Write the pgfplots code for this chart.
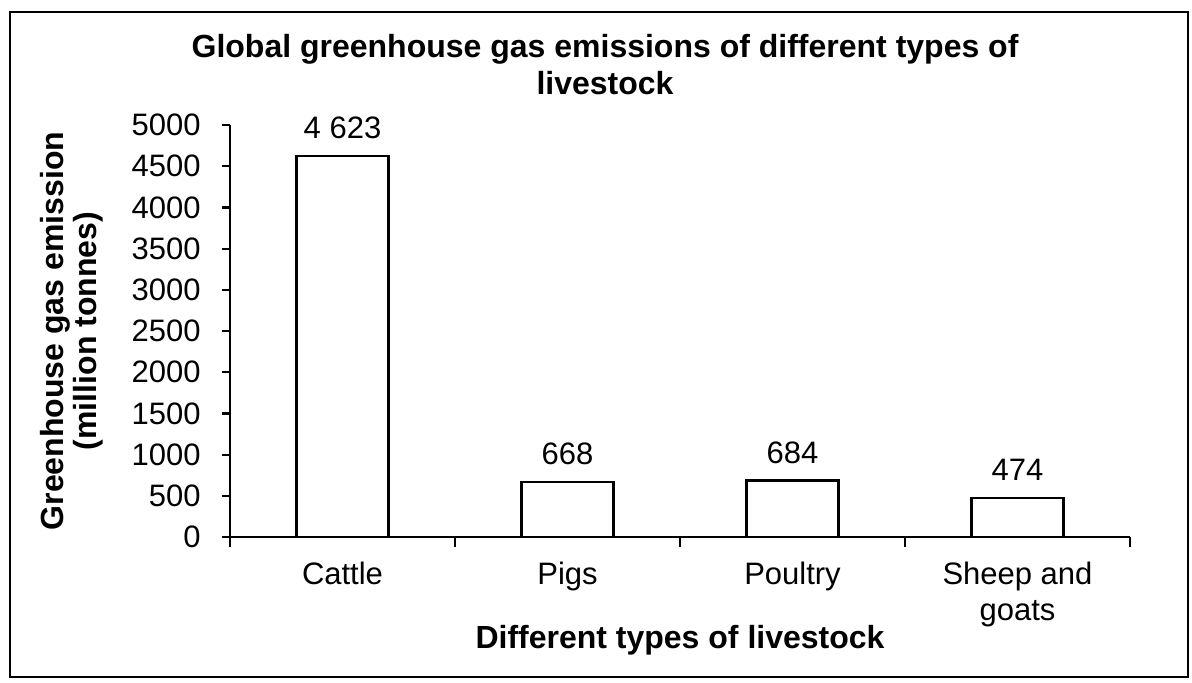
\documentclass[12pt,border=0pt]{standalone}
\usepackage{pgfplots}
\pgfplotsset{compat=1.18}
\usepackage{fontspec}
\setmainfont{Liberation Sans}
\begin{document}
\begin{tikzpicture}
\useasboundingbox (-115pt,-72.5pt) rectangle (481pt,268.5pt);
\draw[line width=1.3pt] (-110pt,-70pt) rectangle (479pt,262.5pt);
\begin{axis}[
  at={(0pt,0pt)}, anchor=south west,
  width=450pt, height=206pt, scale only axis,
  xmin=-0.5, xmax=3.5, ymin=0, ymax=5000,
  axis lines*=left,
  axis line style={line width=1.1pt},
  xtick={0,1,2,3},
  xticklabels={Cattle,Pigs,Poultry,{Sheep and\\goats}},
  minor xtick={-0.5,0.5,1.5,2.5,3.5},
  major x tick style={draw=none},
  minor x tick style={line width=1.1pt, black},
  ytick={0,500,...,5000},
  y tick style={line width=1.1pt, black},
  tick align=outside,
  major tick length=4pt,
  minor tick length=5pt,
  /pgf/number format/1000 sep={},
  /pgf/number format/assume math mode=true,
  xticklabel style={align=center, anchor=north, yshift=-4.5pt, font=\fontsize{15.5}{18}\selectfont},
  yticklabel style={font=\fontsize{15.5}{18}\selectfont, xshift=-6.5pt},
  title={Global greenhouse gas emissions of different types of\\livestock},
  title style={at={(axis description cs:0.4167,1)}, anchor=center, yshift=24pt, align=center, font=\bfseries\fontsize{16}{18.5}\selectfont},
  xlabel={Different types of livestock},
  xlabel style={at={(axis description cs:0.5,0)}, anchor=center, yshift=-51.5pt, font=\bfseries\fontsize{16}{18}\selectfont},
  ylabel={Greenhouse gas emission\\(million tonnes)},
  ylabel style={at={(axis description cs:-0.1756,0.5)}, anchor=center, align=center, font=\bfseries\fontsize{16}{16.5}\selectfont},
  nodes near coords,
  point meta=explicit symbolic,
  every node near coord/.append style={font=\fontsize{15.5}{18}\selectfont, anchor=south, yshift=4pt},
  clip=false,
]
\addplot[ybar, bar width=46pt, draw=black, fill=white, line width=1.3pt]
  coordinates {(0,4623) [4 623] (1,668) [668] (2,684) [684] (3,474) [474]};
\end{axis}
\end{tikzpicture}
\end{document}
